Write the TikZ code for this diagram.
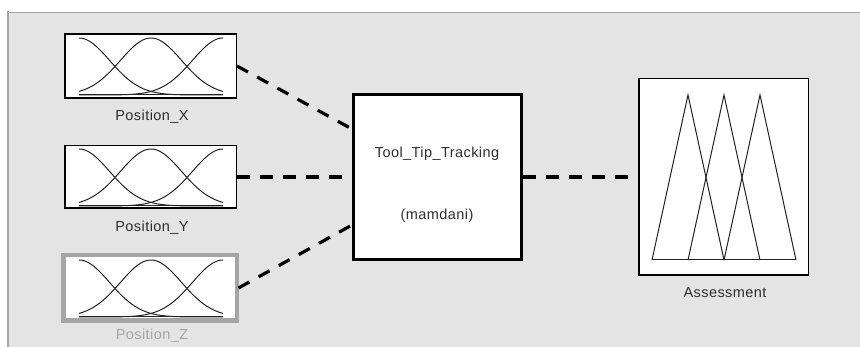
\documentclass[tikz,border=0pt]{standalone}
\usepackage{fontspec}
\newfontfamily\labfont[LetterSpace=3]{Liberation Sans}
\usetikzlibrary{calc}
\definecolor{bgc}{RGB}{228,228,228}
\definecolor{framec}{RGB}{165,165,165}
\definecolor{txtc}{RGB}{45,45,45}
\definecolor{zgray}{RGB}{165,165,165}
\definecolor{zltxt}{RGB}{165,165,165}
\definecolor{mfc}{RGB}{35,35,35}
\tikzset{
  inbox/.style={draw=black, line width=1.5pt, fill=white, minimum width=171.5pt, minimum height=64pt, inner sep=0pt},
  selbox/.style={draw=zgray, line width=4.5pt, fill=white, minimum width=173.5pt, minimum height=65.5pt, inner sep=0pt},
  sysbox/.style={draw=black, line width=3pt, fill=white, minimum width=168pt, minimum height=165pt, inner sep=0pt},
  outbox/.style={draw=black, line width=1.5pt, fill=white, minimum width=169.5pt, minimum height=196.5pt, inner sep=0pt},
  lab/.style={font=\labfont\fontsize{14.5}{17}\selectfont, text=txtc, inner sep=0pt, anchor=base},
  conn/.style={line width=3.2pt, dash pattern=on 12.5pt off 10.5pt},
  mf/.style={draw=mfc, line width=1pt},
}
\newcommand{\gaussmfs}[1]{%
  \begin{scope}[shift={(#1)}]
    \draw[mf] plot[domain=-72:72, samples=60, smooth] (\x, {29-57*exp(-0.5*((\x+72)/30.6)^2)});
    \draw[mf] plot[domain=-72:72, samples=60, smooth] (\x, {29-57*exp(-0.5*((\x)/30.6)^2)});
    \draw[mf] plot[domain=-72:72, samples=60, smooth] (\x, {29-57*exp(-0.5*((\x-72)/30.6)^2)});
    \draw[mf] (-72,29) -- (72,29);
  \end{scope}}
\begin{document}
\begin{tikzpicture}[x=1pt, y=-1pt]
  \useasboundingbox (0,0) rectangle (860,347);
  \fill[white] (0,0) rectangle (860,347);
  \fill[bgc] (8.5,12.5) rectangle (860,347);
  \draw[framec, line width=1.2pt] (8,12.5) -- (860,12.5);
  \draw[framec, line width=1.6pt] (8,11) -- (8,347);

  % input boxes
  \node[inbox] (px) at (150.5,66) {};
  \node[inbox, minimum height=62.5pt] (py) at (150.5,177) {};
  \node[selbox] (pz) at (150,288) {};
  \gaussmfs{151,66}
  \gaussmfs{151,177}
  \gaussmfs{151,288}
  \node[lab] (lx) at (152,120.5) {Position\_X};
  \node[lab] (ly) at (152,231.5) {Position\_Y};
  \node[lab, text=zltxt] (lz) at (152,340) {Position\_Z};

  % system box
  \node[sysbox] (tt) at (437.5,177) {};
  \node[lab] (ttname) at (437,157.5) {Tool\_Tip\_Tracking};
  \node[lab] (tttype) at (437,220) {(mamdani)};

  % output box
  \node[outbox] (as) at (723.5,177) {};
  \begin{scope}[shift={(as.center)}]
    \draw[mf] (-71.5,83) -- (-35.5,-82) -- (0.5,83);
    \draw[mf] (-35.5,83) -- (0.5,-82) -- (36.5,83);
    \draw[mf] (0.5,83) -- (36.5,-82) -- (72.5,83);
    \draw[mf] (-71.5,83) -- (72.5,83);
  \end{scope}
  \node[lab] (la) at (725,298) {Assessment};

  % connectors
  \path (tt.west) ++(0,-48) coordinate (tin1);
  \path (tt.west) coordinate (tin2);
  \path (tt.west) ++(0,48) coordinate (tin3);
  \draw[conn] (px.east) -- (tin1);
  \draw[conn] (py.east) -- (tin2);
  \draw[conn] ([xshift=-0.5pt]pz.east) -- (tin3);
  \draw[conn] (tt.east) -- (as.west);
\end{tikzpicture}
\end{document}
